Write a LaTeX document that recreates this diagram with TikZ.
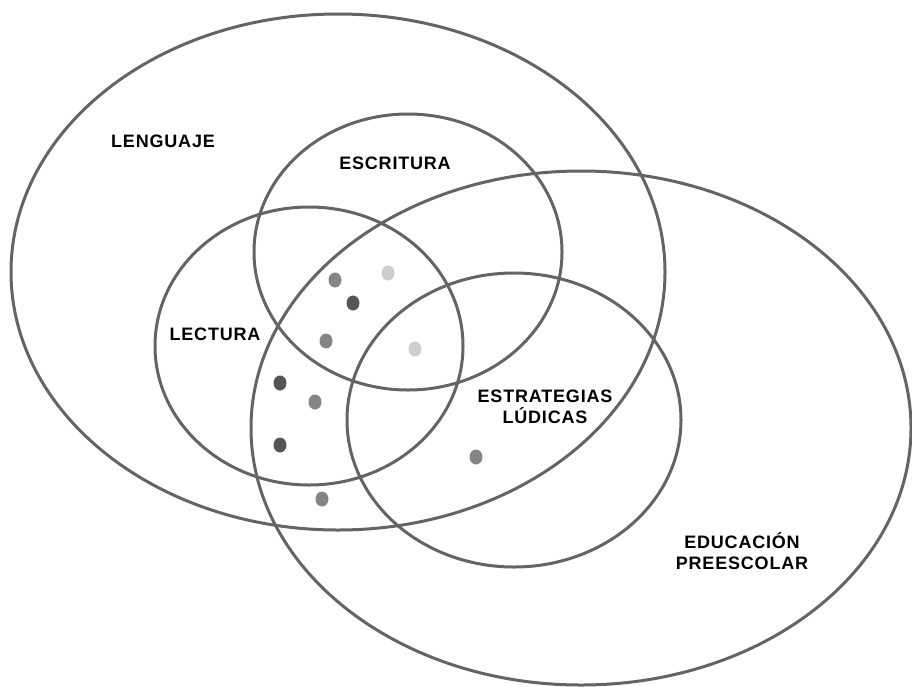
\documentclass[tikz,border=0pt]{standalone}
\usepackage{fontspec}
\setmainfont{Liberation Sans}[LetterSpace=4.5]
\usetikzlibrary{shapes.geometric}
\definecolor{ring}{HTML}{646464}
\definecolor{dotmid}{HTML}{858585}
\definecolor{dotdark}{HTML}{555555}
\definecolor{dotlight}{HTML}{CDCDCD}
\tikzset{
  venn/.style={draw=ring, line width=3pt},
  lbl/.style={font=\fontsize{18}{24}\selectfont\bfseries, text=black, inner sep=0pt, align=center},
  dotm/.style={fill=dotmid},
  dotd/.style={fill=dotdark},
  dotl/.style={fill=dotlight},
}
\begin{document}
\begin{tikzpicture}[x=1pt,y=-1pt]
\useasboundingbox (0,0) rectangle (912,686);
% sets
\draw[venn] (338,272) ellipse [x radius=327, y radius=258];
\draw[venn] (581,428) ellipse [x radius=330, y radius=257];
\draw[venn] (408,252) ellipse [x radius=154, y radius=138];
\draw[venn] (309,346) ellipse [x radius=154, y radius=139];
\draw[venn] (514,420) ellipse [x radius=167, y radius=147];
% labels
\node[lbl] (lenguaje) at (163,141) {LENGUAJE};
\node[lbl] (escritura) at (395,163) {ESCRITURA};
\node[lbl] (lectura) at (215,334) {LECTURA};
\node[lbl] (estrategias) at (545,407) {ESTRATEGIAS\\[-3pt]LÚDICAS};
\node[lbl] (educacion) at (742,551) {EDUCACIÓN\\[-3pt]PREESCOLAR};
% dots
\fill[dotm] (335,280) ellipse [x radius=6.5, y radius=7.5];
\fill[dotl] (388,273) ellipse [x radius=6.5, y radius=7.5];
\fill[dotd] (353,303) ellipse [x radius=6.5, y radius=7.5];
\fill[dotm] (326,341) ellipse [x radius=6.5, y radius=7.5];
\fill[dotl] (415,349) ellipse [x radius=6.5, y radius=7.5];
\fill[dotd] (280,383) ellipse [x radius=6.5, y radius=7.5];
\fill[dotm] (315,402) ellipse [x radius=6.5, y radius=7.5];
\fill[dotd] (280,445) ellipse [x radius=6.5, y radius=7.5];
\fill[dotm] (476,457) ellipse [x radius=6.5, y radius=7.5];
\fill[dotm] (322,499) ellipse [x radius=6.5, y radius=7.5];
\end{tikzpicture}
\end{document}
